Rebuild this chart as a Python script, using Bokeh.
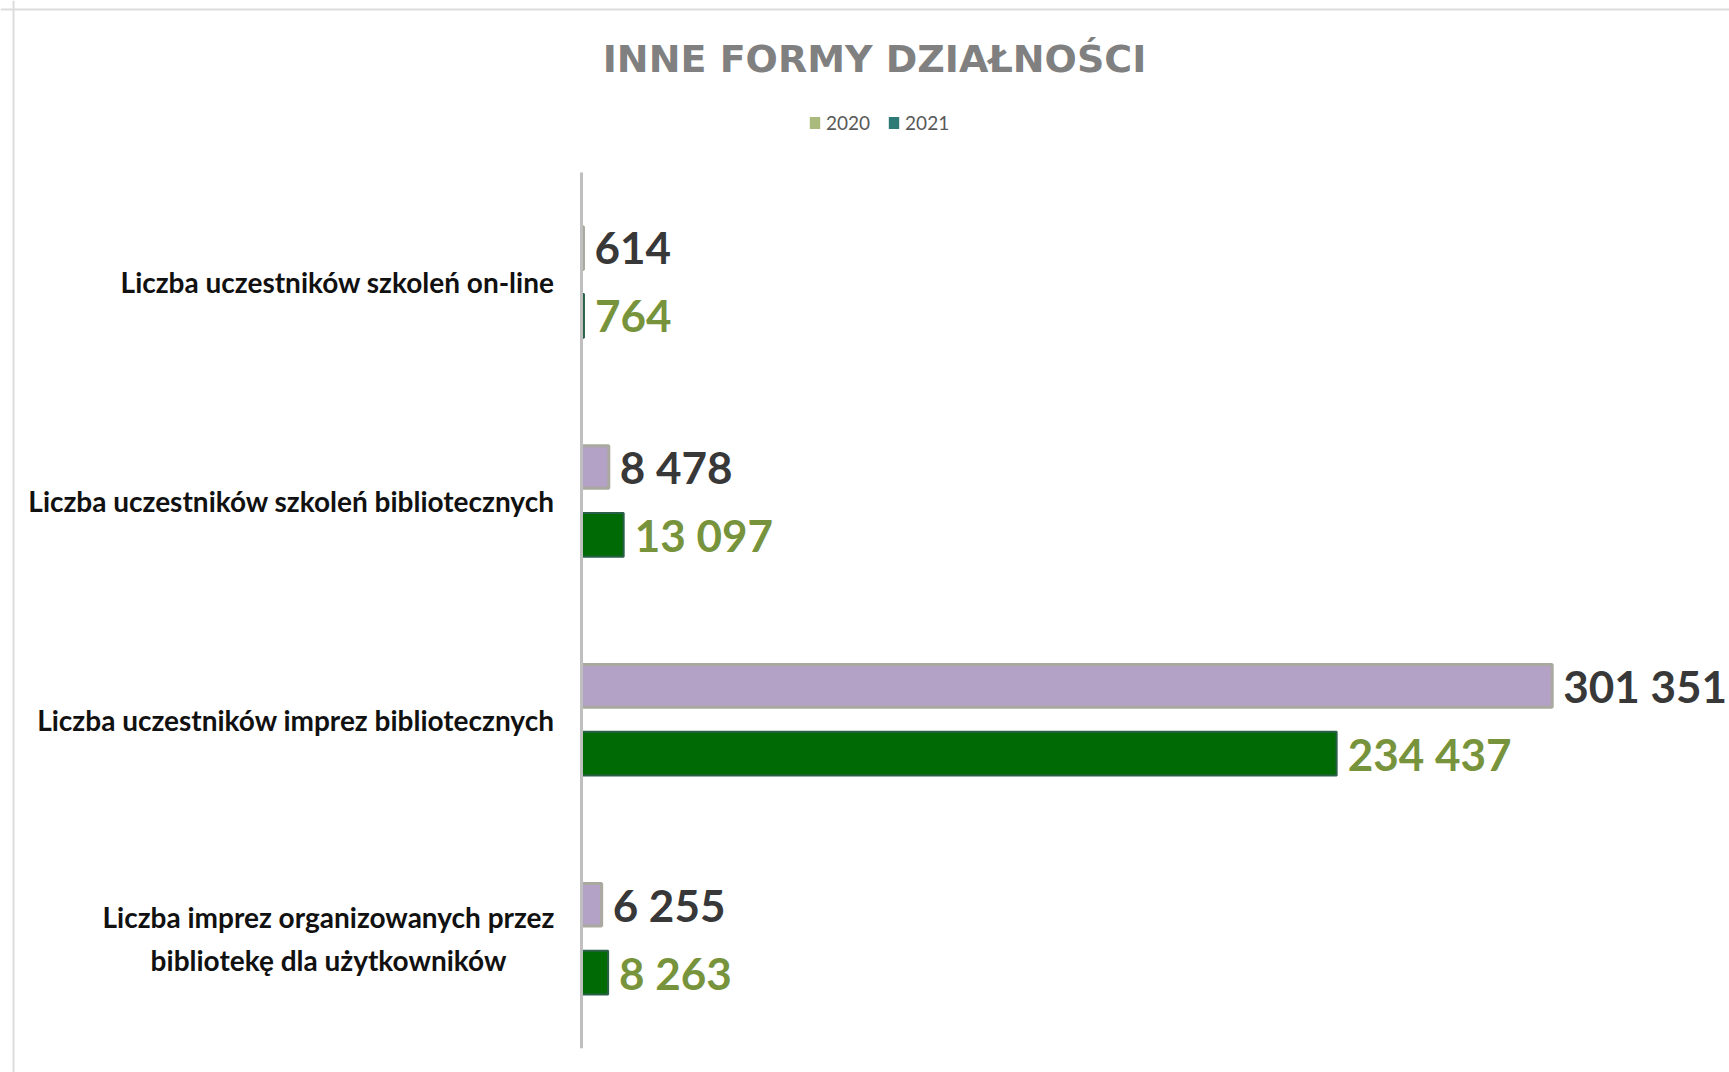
from bokeh.plotting import figure
from bokeh.models import ColumnDataSource, Range1d, Label, Legend, LegendItem, Span
from bokeh.transform import dodge
from bokeh.core.properties import value
from bokeh.embed import file_html
from bokeh.resources import INLINE

# ---------------- data ----------------
title_text = "INNE FORMY DZIAŁNOŚCI"
categories = [
    "Liczba uczestników szkoleń on-line",
    "Liczba uczestników szkoleń bibliotecznych",
    "Liczba uczestników imprez bibliotecznych",
    "Liczba imprez organizowanych przez\nbibliotekę dla użytkowników",
]
values_2020 = [614, 8478, 301351, 6255]
values_2021 = [764, 13097, 234437, 8263]
series_names = ["2020", "2021"]

# ---------------- layout constants ----------------
W, H = 1729, 1072
ZERO_PX = 581            # canvas x of value 0
UNITS_PER_PX = 310.45    # value units per pixel
CAT0_PX = 281.5          # canvas y of first category centre
CAT_PX = 218.9           # pixels per category

x_start = -ZERO_PX * UNITS_PER_PX
x_end = (W - ZERO_PX) * UNITS_PER_PX
y_top = -CAT0_PX / CAT_PX
y_bottom = (H - CAT0_PX) / CAT_PX

def fmt(v):
    return f"{v:,}".replace(",", " ")

idx = list(range(len(categories)))
src = ColumnDataSource(dict(
    idx=idx,
    cat=categories,
    v2020=values_2020,
    v2021=values_2021,
    l2020=[fmt(v) for v in values_2020],
    l2021=[fmt(v) for v in values_2021],
))

p = figure(width=W, height=H, output_backend="svg", toolbar_location=None,
           x_range=Range1d(x_start, x_end), y_range=Range1d(y_bottom, y_top),
           x_axis_type=None, y_axis_type=None,
           min_border=0, min_border_left=0, min_border_right=0,
           min_border_top=0, min_border_bottom=0)
p.outline_line_color = None
p.xgrid.visible = False
p.ygrid.visible = False
p.background_fill_color = "white"
p.border_fill_color = "white"

OFF = 0.155

# legend proxies (same bars, hidden underneath the real ones)
r20 = p.hbar(y=dodge("idx", -OFF), left=0, right="v2020", height=0.19, source=src,
             fill_color="#a9ba7c", line_color=None)
r21 = p.hbar(y=dodge("idx", OFF), left=0, right="v2021", height=0.19, source=src,
             fill_color="#2e7a77", line_color=None)

# bars
p.hbar(y=dodge("idx", -OFF), left=0, right="v2020", height=0.195, source=src,
       fill_color="#b3a1c6", line_color="#aaa9a0", line_width=3)
p.hbar(y=dodge("idx", OFF), left=0, right="v2021", height=0.2, source=src,
       fill_color="#006a05", line_color="#2a6048", line_width=2)

# vertical category axis line
n = len(categories)
p.segment(x0=[0], y0=[-0.5], x1=[0], y1=[n - 0.5], line_color="#bfbfbf", line_width=3)

# value labels
p.text(x="v2020", y=dodge("idx", -OFF), text="l2020", source=src, x_offset=11,
       text_baseline="middle", text_align="left", text_font=value("Lato"),
       text_font_style="bold", text_font_size="44px", text_color="#383838")
p.text(x="v2021", y=dodge("idx", OFF), text="l2021", source=src, x_offset=11,
       text_baseline="middle", text_align="left", text_font=value("Lato"),
       text_font_style="bold", text_font_size="44px", text_color="#77933c")

# category labels
single = [i for i, c in enumerate(categories) if "\n" not in c]
multi = [i for i, c in enumerate(categories) if "\n" in c]
src_single = ColumnDataSource(dict(y=[idx[i] for i in single], t=[categories[i] for i in single],
                                   x=[0] * len(single)))
src_multi = ColumnDataSource(dict(y=[idx[i] for i in multi], t=[categories[i] for i in multi],
                                  x=[0] * len(multi)))
p.text(x="x", y="y", text="t", source=src_single, x_offset=-27, text_align="right",
       text_baseline="middle", text_font=value("Lato"), text_font_style="bold",
       text_font_size="28px", text_color="#111111")
p.text(x="x", y="y", text="t", source=src_multi, x_offset=-253, text_align="center",
       text_baseline="middle", text_font=value("Lato"), text_font_style="bold",
       text_font_size="28px", text_color="#111111", text_line_height=1.25)

# chart-area border (left and top)
p.add_layout(Span(location=x_start + 13 * UNITS_PER_PX, dimension="height",
                  line_color="#dcdcdc", line_width=2))
p.add_layout(Span(location=y_top + 9 / CAT_PX, dimension="width",
                  line_color="#dcdcdc", line_width=2))

# title
p.add_layout(Label(x=874, y=H - 58, x_units="screen", y_units="screen", text=title_text,
                   text_align="center", text_baseline="middle", text_font="DejaVu Sans",
                   text_font_style="bold", text_font_size="38px", text_color="#808080"))

# legend
legend = Legend(items=[LegendItem(label=series_names[0], renderers=[r20]),
                       LegendItem(label=series_names[1], renderers=[r21])],
                orientation="horizontal", location=(808, H - 134),
                glyph_width=13, glyph_height=15, label_standoff=5, spacing=17,
                padding=0, margin=0, border_line_color=None, background_fill_alpha=0,
                label_text_font="Lato", label_text_font_size="19px",
                label_text_color="#595959", label_height=19)
p.add_layout(legend, "center")

open("out.html", "w").write(file_html(p, INLINE))
